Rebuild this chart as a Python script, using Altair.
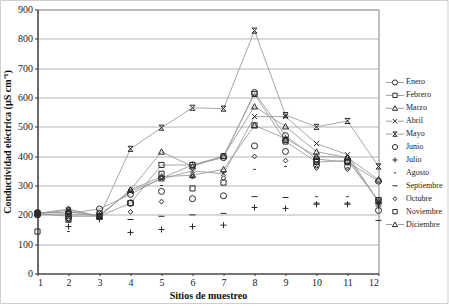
import altair as alt
import pandas as pd

sites = list(range(1, 13))
months = ["Enero", "Febrero", "Marzo", "Abril", "Mayo", "Junio", "Julio",
          "Agosto", "Septiembre", "Octubre", "Noviembre", "Diciembre"]

enero      = [208, 205, 220, 270, 325, 370, 395, 617, 470, 390, 380, 315]
febrero    = [205, 195, 195, 240, 370, 370, 400, 612, 450, 380, 385, 250]
marzo      = [205, 220, 195, 285, 415, 365, 400, 569, 501, 415, 395, 245]
abril      = [200, 200, 200, 280, 322, 350, 340, 535, 535, 443, 405, 245]
mayo       = [205, 215, 195, 425, 497, 565, 562, 828, 540, 500, 520, 365]
junio      = [200, 190, 205, 240, 280, 255, 265, 435, 416, 370, 365, 215]
julio      = [205, 160, 185, 140, 150, 160, 165, 225, 222, 236, 236, 230]
agosto     = [205, 143, 190, 250, 300, 330, 345, 355, 365, 262, 262, 240]
septiembre = [205, 175, 190, 184, 195, 200, 205, 262, 259, 240, 240, 181]
octubre    = [205, 185, 200, 210, 245, 330, 325, 399, 385, 360, 355, 240]
noviembre  = [143, 185, 195, 240, 340, 290, 310, 505, 455, 385, 380, 250]
diciembre  = [205, 210, 195, 285, 330, 335, 355, 505, 460, 400, 395, 320]

series = [enero, febrero, marzo, abril, mayo, junio, julio,
          agosto, septiembre, octubre, noviembre, diciembre]
line_months = ["Enero", "Febrero", "Marzo", "Abril", "Mayo", "Diciembre"]

rows = []
for m, vals in zip(months, series):
    for s, v in zip(sites, vals):
        rows.append({"sitio": s, "mes": m, "valor": v})
df = pd.DataFrame(rows)
legend_df = pd.DataFrame({"mes": months})

SERIF = "Liberation Serif"
LINE_GRAY = "#9c9c9c"
MARK = "#2a2a2a"

SQUARE = "M-0.85,-0.85H0.85V0.85H-0.85Z"
TRI = "M0,-1L1,0.8H-1Z"
XMARK = "M-0.85,-0.85L0.85,0.85M-0.85,0.85L0.85,-0.85"
STAR = "M-0.85,-0.85L0.85,0.85M-0.85,0.85L0.85,-0.85M-0.85,-0.85H0.85M-0.85,0.85H0.85"
PLUS = "M-1,0H1M0,-1V1"
SMALLDASH = "M-0.45,0H0.45"
DASH = "M-1,0H1"
DIAMOND = "M0,-0.8L0.75,0L0,0.8L-0.75,0Z"

marker_shapes = ["circle", SQUARE, TRI, XMARK, STAR, "circle", PLUS,
                 SMALLDASH, DASH, DIAMOND, SQUARE, TRI]
marker_widths = [1, 1, 1, 1, 1.3, 2.2, 1, 1.6, 2.6, 1, 1, 1]

shape_enc = alt.Shape("mes:N", scale=alt.Scale(domain=months, range=marker_shapes),
                      legend=None)
width_enc = alt.StrokeWidth("mes:N", scale=alt.Scale(domain=months, range=marker_widths),
                            legend=None)

x_enc = alt.X("sitio:Q", scale=alt.Scale(domain=[1, 12], nice=False, zero=False),
              axis=alt.Axis(values=sites, title="Sitios de muestreo", grid=False,
                            tickSize=2, labelPadding=2, titlePadding=3,
                            format="d"))
y_enc = alt.Y("valor:Q", scale=alt.Scale(domain=[0, 900], nice=False),
              axis=alt.Axis(values=list(range(0, 1000, 100)),
                            title="Conductividad eléctrica (µS cm⁻¹)",
                            grid=True, tickSize=3, labelPadding=2, titlePadding=5))

base = alt.Chart(df)

lines = base.mark_line(color=LINE_GRAY, strokeWidth=0.9).encode(
    x=x_enc, y=y_enc, detail="mes:N"
).transform_filter(alt.FieldOneOfPredicate(field="mes", oneOf=line_months))

points = base.mark_point(filled=False, color=MARK, size=36, opacity=1).encode(
    x=x_enc, y=y_enc, shape=shape_enc, strokeWidth=width_enc,
)

main = alt.layer(lines, points)

# legend drawn from the months list, placed on its own point scale
leg_y = alt.Y("mes:N", scale=alt.Scale(type="point", domain=months, range=[66.5, 221.5]),
              axis=None)
leg = alt.Chart(legend_df)

leg_seg = leg.mark_rule(color=LINE_GRAY, strokeWidth=1).encode(
    x=alt.value(348.5), x2=alt.value(366.5), y=leg_y
).transform_filter(alt.FieldOneOfPredicate(field="mes", oneOf=line_months))

leg_bg = leg.mark_point(filled=True, color="white", shape="square", size=30, opacity=1).encode(
    x=alt.value(357.5), y=leg_y
).transform_filter(alt.FieldOneOfPredicate(field="mes", oneOf=line_months))

leg_pts = leg.mark_point(filled=False, color=MARK, size=26, opacity=1).encode(
    x=alt.value(357.5), y=leg_y, shape=shape_enc, strokeWidth=width_enc,
)

leg_txt = leg.mark_text(align="left", baseline="middle", font=SERIF, fontSize=8,
                        color="#222").encode(
    x=alt.value(368.5), y=leg_y, text="mes:N"
)

frame = alt.Chart(pd.DataFrame({"k": [0]})).mark_rect(
    fill=None, stroke="#cfcfcf", strokeWidth=1
).encode(x=alt.value(-37), x2=alt.value(410.5), y=alt.value(-9), y2=alt.value(294))

legend_layer = alt.layer(leg_seg, leg_bg, leg_pts, leg_txt, frame)

chart = alt.layer(main, legend_layer).resolve_scale(
    y="independent"
).properties(
    width=341, height=264,
    autosize=alt.AutoSizeParams(type="none"),
    padding={"left": 37.5, "top": 9.5, "right": 70.5, "bottom": 33.5},
    background="white",
).configure_axis(
    labelFont=SERIF, labelFontSize=10, labelColor="#222",
    titleFont=SERIF, titleFontSize=10, titleFontWeight="bold", titleColor="#111",
    domainColor="#333", domainWidth=1.2, tickColor="#333",
    gridColor="#b4b4b4", gridWidth=1,
).configure_view(stroke="#808080", strokeWidth=1)

chart.save("out.html", embed_options={"renderer": "svg", "actions": False})
